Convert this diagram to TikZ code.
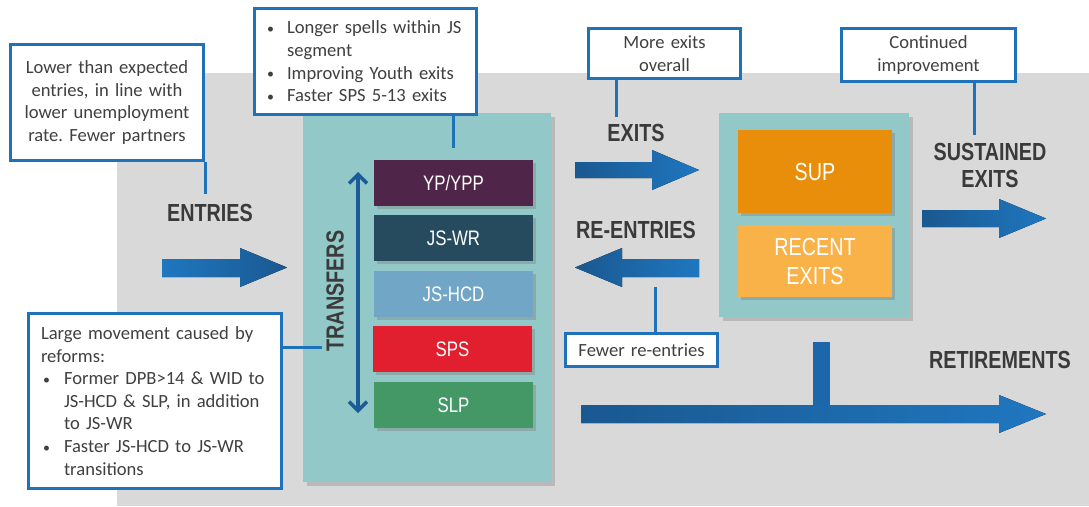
\documentclass[tikz,border=0pt]{standalone}
\usepackage{fontspec}
\setmainfont{Carlito}
\newfontfamily\labfont{Liberation Sans}
\usetikzlibrary{shadows,arrows.meta}
\definecolor{bggray}{HTML}{D9D9D9}
\definecolor{tealbox}{HTML}{92C8C7}
\definecolor{calblue}{HTML}{1F71BA}
\definecolor{txtgray}{HTML}{404040}
\definecolor{labgray}{HTML}{3A3A3A}
\definecolor{arlight}{HTML}{1F77C0}
\definecolor{ardark}{HTML}{1A5890}
\definecolor{armid}{HTML}{1B67AA}
\definecolor{cYP}{HTML}{4F2649}
\definecolor{cWR}{HTML}{264A5E}
\definecolor{cHCD}{HTML}{72A6C6}
\definecolor{cSPS}{HTML}{E11F2F}
\definecolor{cSLP}{HTML}{439866}
\definecolor{cSUP}{HTML}{E88E0A}
\definecolor{cREC}{HTML}{F9B247}
\definecolor{dblue}{HTML}{1B5C96}
\frenchspacing
\newcommand\cnd[1]{\scalebox{0.8}[1]{#1}}
\newcommand\smbul{\raisebox{0.5pt}{\scalebox{0.75}{\textbullet}}}
\newcommand\bul{\makebox[20pt][l]{\smbul}}
\newcommand\ind{\hspace*{20pt}}
\tikzset{
  callout/.style={draw=calblue, line width=3pt, fill=white, text=txtgray,
    font=\fontsize{18.6}{22.6}\selectfont, inner sep=0pt},
  calline/.style={draw=calblue, line width=3pt},
  biglabel/.style={text=labgray, font=\labfont\bfseries\fontsize{24.7}{27}\selectfont, inner sep=0pt, align=center},
  panel/.style={fill=tealbox, draw=none, inner sep=0pt,
    drop shadow={shadow xshift=4pt, shadow yshift=-4pt, opacity=0.35}},
  seg/.style={draw=none, text=white, minimum width=159, minimum height=46, inner sep=0pt,
    font=\labfont\fontsize{21}{24}\selectfont,
    drop shadow={shadow xshift=3pt, shadow yshift=-3pt, opacity=0.4}},
  bigseg/.style={seg, minimum width=154, font=\labfont\fontsize{24.7}{28}\selectfont, align=center},
  dbarrow/.style={draw=dblue, line width=3.5pt, {Straight Barb[length=9pt,width=18pt]}-{Straight Barb[length=9pt,width=18pt]}}
}
\begin{document}
\begin{tikzpicture}[x=1pt,y=-1pt]
\useasboundingbox (0,0) rectangle (1089,506);
\fill[white] (0,0) rectangle (1089,506);
\fill[bggray] (117,73) rectangle (1089,506);

% panels
\node[panel, minimum width=248, minimum height=369] (tpanel) at (427,297.5) {};
\node[panel, minimum width=190, minimum height=204] (spanel) at (814,215) {};

% segments
\node[seg, fill=cYP]  (yp)  at (453.5,183) {\cnd{YP/YPP}};
\node[seg, fill=cWR]  (wr)  at (453.5,238) {\cnd{JS-WR}};
\node[seg, fill=cHCD] (hcd) at (453.5,294) {\cnd{JS-HCD}};
\node[seg, fill=cSPS] (sps) at (452.5,349) {\cnd{SPS}};
\node[seg, fill=cSLP] (slp) at (453.5,405) {\cnd{SLP}};

\node[bigseg, fill=cSUP, minimum height=83] (sup) at (815,171.5) {\cnd{SUP}};
\node[bigseg, fill=cREC, minimum height=72] (rec) at (815,261) {\cnd{RECENT}\\[1pt]\cnd{EXITS}};

% transfers
\coordinate (ta) at (358,172);
\coordinate (tb) at (358,413);
\draw[dbarrow] (ta) -- (tb);
\node[biglabel, rotate=90] (transfers) at (335,291) {\cnd{TRANSFERS}};

% block arrows
\fill[left color=arlight, right color=ardark] (162,259) -- (240,259) -- (240,248) -- (287,267.5) -- (240,287) -- (240,277) -- (162,277) -- cycle;
\fill[left color=ardark, right color=arlight] (575,162) -- (652,162) -- (652,150) -- (699,170) -- (652,190) -- (652,178) -- (575,178) -- cycle;
\fill[left color=ardark, right color=arlight] (575,267.5) -- (622,248) -- (622,259) -- (699,259) -- (699,277) -- (622,277) -- (622,287) -- cycle;
\fill[left color=ardark, right color=arlight] (922,210) -- (999,210) -- (999,199) -- (1046,218.5) -- (999,238) -- (999,227) -- (922,227) -- cycle;
\fill[armid] (813,342) rectangle (830,406);
\fill[left color=ardark, right color=arlight] (581,405) -- (999,405) -- (999,395) -- (1046,414) -- (999,433) -- (999,423) -- (581,423) -- cycle;

% labels
\node[biglabel] (entries) at (210,213) {\cnd{ENTRIES}};
\node[biglabel] (exits) at (636,133) {\cnd{EXITS}};
\node[biglabel] (reentries) at (636,230) {\cnd{RE-ENTRIES}};
\node[biglabel] (sustained) at (990,165) {\cnd{SUSTAINED}\\\cnd{EXITS}};
\node[biglabel] (retire) at (1000,360) {\cnd{RETIREMENTS}};

% callouts
\node[callout, minimum width=193, minimum height=116, text width=190, align=center] (lowent) at (107,102.5)
  {Lower than expected\\entries, in line with\\lower unemployment\\rate. Fewer partners};
\node[callout, minimum width=222, minimum height=106, text width=197, align=left] (jsbox) at (365.5,61.5)
  {\bul Longer spells within JS\\\ind segment\\\bul Improving Youth exits\\\bul Faster SPS 5-13 exits};
\node[callout, minimum width=253, minimum height=175, text width=228, align=left] (reform) at (155,401)
  {Large movement caused by\\reforms:\\\hspace*{2pt}\makebox[21pt][l]{\smbul}Former DPB>14 \& WID to\\\hspace*{23pt}JS-HCD \& SLP, in addition\\\hspace*{23pt}to JS-WR\\\hspace*{2pt}\makebox[21pt][l]{\smbul}Faster JS-HCD to JS-WR\\\hspace*{23pt}transitions};
\node[callout, minimum width=152, minimum height=50, text width=140, align=center] (moreexits) at (664.5,53.5)
  {More exits\\overall};
\node[callout, minimum width=174, minimum height=53, text width=160, align=center] (contimp) at (928.5,55)
  {Continued\\improvement};
\node[callout, minimum width=152, minimum height=33, text width=150, align=center] (fewer) at (641.5,350)
  {Fewer re-entries};

% callout connectors
\coordinate (c1) at (205,194);
\coordinate (c2) at (453,148);
\coordinate (c3) at (322,347);
\coordinate (c4) at (616,117);
\coordinate (c5) at (974,135);
\coordinate (c6) at (655,287);
\draw[calline] (lowent.south -| c1) -- (c1);
\draw[calline] (jsbox.south -| c2) -- (c2);
\draw[calline] (reform.east |- c3) -- (c3);
\draw[calline] (moreexits.south -| c4) -- (c4);
\draw[calline] (contimp.south -| c5) -- (c5);
\draw[calline] (fewer.north -| c6) -- (c6);
\end{tikzpicture}
\end{document}
